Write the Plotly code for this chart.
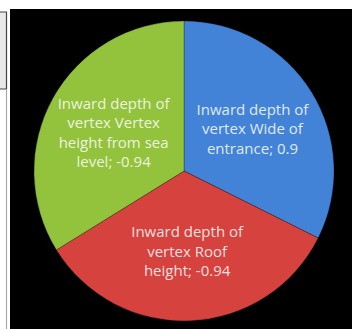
import plotly.graph_objects as go

labels = ["Inward depth of<br>vertex Wide of<br>entrance", "Inward depth of<br>vertex Roof<br>height", "Inward depth of<br>vertex Vertex<br>height from sea<br>level"]
values = [0.9, -0.94, -0.94]
colors = ["#4283D8", "#D6423E", "#93C23C"]

W, H = 352, 329
cx, cy, r = 184, 171, 150

fig = go.Figure(go.Pie(
    labels=labels,
    values=[abs(v) for v in values],
    customdata=values,
    texttemplate="%{label}; %{customdata}",
    textinfo="text",
    textposition="inside",
    insidetextorientation="horizontal",
    textfont=dict(family="Open Sans", size=15, color="rgba(255,255,255,0.85)"),
    marker=dict(colors=colors, line=dict(color="rgba(0,0,0,0.25)", width=1)),
    sort=False,
    direction="clockwise",
    rotation=0,
    showlegend=False,
    hoverinfo="skip",
    domain=dict(x=[(cx - r) / W, (cx + r) / W], y=[(H - cy - r) / H, (H - cy + r) / H]),
))

shapes = [
    dict(type="rect", xref="paper", yref="paper", x0=0, x1=1, y0=1 - 9 / H, y1=1,
         fillcolor="white", line=dict(width=0), layer="below"),
    dict(type="rect", xref="paper", yref="paper", x0=0, x1=10 / W, y0=0, y1=1,
         fillcolor="white", line=dict(width=0), layer="below"),
    dict(type="rect", xref="paper", yref="paper", x0=-0.01, x1=6.5 / W, y0=1 - 89 / H, y1=1 - 12 / H,
         fillcolor="#E9E9E9", line=dict(color="#444", width=1.2), layer="below"),
    dict(type="line", xref="paper", yref="paper", x0=6.5 / W, x1=6.5 / W, y0=0, y1=1 - 89 / H,
         line=dict(color="#AAAAAA", width=1.2), layer="below"),
]

fig.update_layout(
    width=W, height=H,
    margin=dict(l=0, r=0, t=0, b=0),
    paper_bgcolor="black",
    plot_bgcolor="black",
    shapes=shapes,
)

fig.write_html("out.html")
